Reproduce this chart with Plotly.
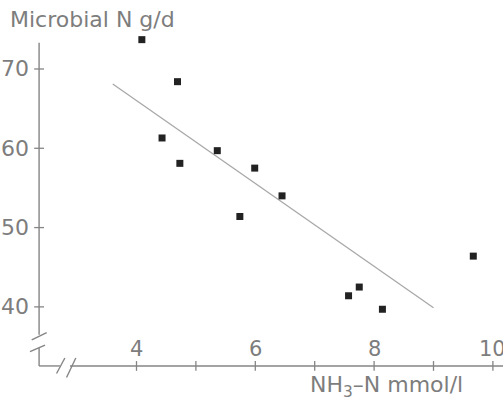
import plotly.graph_objects as go

# ---- data ----
nh3_n = [4.09, 4.69, 4.43, 4.73, 5.36, 5.99, 6.45, 5.74, 9.67, 7.57, 7.75, 8.14]
microbial_n = [73.7, 68.4, 61.3, 58.1, 59.7, 57.5, 54.0, 51.4, 46.4, 41.4, 42.5, 39.7]

fit_x = [3.6, 9.0]
fit_y = [68.1, 39.9]

x_tick_vals = [4, 5, 6, 7, 8, 9, 10]
x_tick_labels = ["4", "", "6", "", "8", "", "10"]
y_tick_vals = [40, 50, 60, 70]
y_tick_labels = ["40", "50", "60", "70"]

title_text = "Microbial N g/d"
x_title_text = "NH<sub>3</sub>–N mmol/l"

# ---- geometry (data units) ----
X_MIN, X_MAX = 1.702, 10.17
Y_MIN, Y_MAX = 28.13, 78.70
AXIS_X = 2.36      # position of vertical axis
AXIS_Y = 32.55     # position of horizontal axis

AX_COL = "#858585"
TXT_COL = "#7d7d7d"
FONT = "DejaVu Sans"

fig = go.Figure()

# regression line
fig.add_trace(go.Scatter(x=fit_x, y=fit_y, mode="lines",
                         line=dict(color="#a8a8a8", width=1.3),
                         hoverinfo="skip", showlegend=False))

# observations
fig.add_trace(go.Scatter(x=nh3_n, y=microbial_n, mode="markers",
                         marker=dict(symbol="square", size=7, color="#222222"),
                         showlegend=False))

# tick marks (crossing axis lines)
fig.add_trace(go.Scatter(x=[AXIS_X] * len(y_tick_vals), y=y_tick_vals, mode="markers",
                         marker=dict(symbol="line-ew", size=7,
                                     line=dict(color=AX_COL, width=1.3)),
                         hoverinfo="skip", showlegend=False))
fig.add_trace(go.Scatter(x=x_tick_vals, y=[AXIS_Y] * len(x_tick_vals), mode="markers",
                         marker=dict(symbol="line-ns", size=7,
                                     line=dict(color=AX_COL, width=1.3)),
                         hoverinfo="skip", showlegend=False))

line_style = dict(color=AX_COL, width=1.4)
shapes = [
    # vertical axis, upper part and lower stub
    dict(type="line", x0=AXIS_X, x1=AXIS_X, y0=36.5, y1=73.3, line=line_style),
    dict(type="line", x0=AXIS_X, x1=AXIS_X, y0=AXIS_Y, y1=34.8, line=line_style),
    # axis break marks on vertical axis
    dict(type="line", x0=2.236, x1=2.488, y0=35.83, y1=36.75, line=line_style),
    dict(type="line", x0=2.207, x1=2.460, y0=34.35, y1=35.19, line=line_style),
    # horizontal axis, stub and main part
    dict(type="line", x0=AXIS_X, x1=2.71, y0=AXIS_Y, y1=AXIS_Y, line=line_style),
    dict(type="line", x0=2.88, x1=X_MAX, y0=AXIS_Y, y1=AXIS_Y, line=line_style),
    # axis break marks on horizontal axis
    dict(type="line", x0=2.654, x1=2.794, y0=31.6, y1=33.55, line=line_style),
    dict(type="line", x0=2.822, x1=2.978, y0=31.1, y1=33.55, line=line_style),
]

annotations = []
for v, t in zip(x_tick_vals, x_tick_labels):
    if t:
        annotations.append(dict(x=v, y=34.75, text=t, showarrow=False,
                                xanchor="center", yanchor="middle",
                                font=dict(family=FONT, size=21, color=TXT_COL)))
for v, t in zip(y_tick_vals, y_tick_labels):
    annotations.append(dict(x=2.23, y=v, text=t, showarrow=False,
                            xanchor="right", yanchor="middle",
                            font=dict(family=FONT, size=22, color=TXT_COL)))
annotations.append(dict(x=1.83, y=76.2, text=title_text, showarrow=False,
                        xanchor="left", yanchor="middle",
                        font=dict(family=FONT, size=22, color=TXT_COL)))
annotations.append(dict(x=6.88, y=29.9, text=x_title_text, showarrow=False,
                        xanchor="left", yanchor="middle",
                        font=dict(family=FONT, size=22, color=TXT_COL)))

fig.update_layout(
    width=503, height=401,
    margin=dict(l=0, r=0, t=0, b=0),
    paper_bgcolor="white", plot_bgcolor="white",
    xaxis=dict(range=[X_MIN, X_MAX], visible=False, fixedrange=True),
    yaxis=dict(range=[Y_MIN, Y_MAX], visible=False, fixedrange=True),
    shapes=shapes, annotations=annotations,
    showlegend=False,
)

fig.write_html("out.html",
               config=dict(displayModeBar=False, staticPlot=True),
               post_script="document.body.style.margin='0px';"
                           "document.body.style.overflow='hidden';")
